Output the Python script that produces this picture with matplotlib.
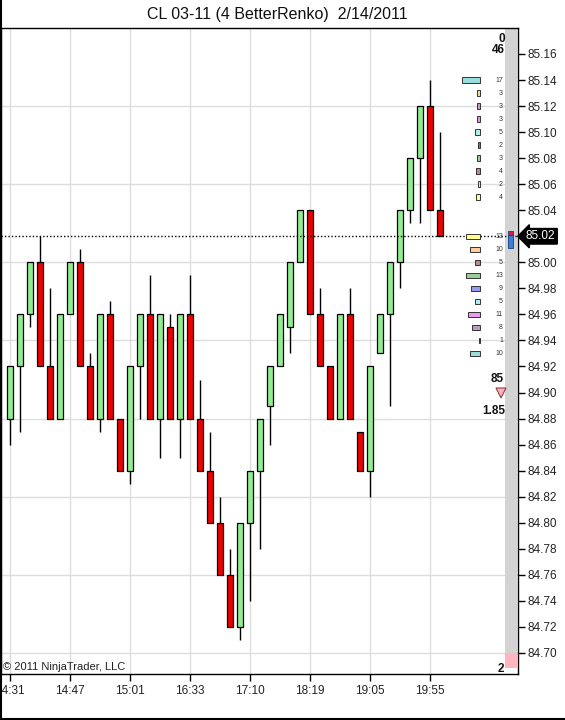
import matplotlib
matplotlib.use("Agg")
import matplotlib.pyplot as plt
from matplotlib.patches import Rectangle, Polygon
from matplotlib.transforms import blended_transform_factory
import numpy as np

plt.rcParams['font.family'] = ['Liberation Sans', 'DejaVu Sans']

# ---- data ----
opens  = [84.88, 84.92, 84.96, 85.00, 84.92, 84.88, 84.96, 85.00, 84.92, 84.88,
          84.96, 84.88, 84.84, 84.92, 84.96, 84.88, 84.95, 84.88, 84.96, 84.88,
          84.84, 84.80, 84.76, 84.72, 84.80, 84.84, 84.89, 84.92, 84.95, 85.00,
          85.04, 84.96, 84.92, 84.88, 84.96, 84.87, 84.84, 84.93, 84.96, 85.00,
          85.04, 85.08, 85.12, 85.04]
closes = [84.92, 84.96, 85.00, 84.92, 84.88, 84.96, 85.00, 84.92, 84.88, 84.96,
          84.88, 84.84, 84.92, 84.96, 84.88, 84.96, 84.88, 84.96, 84.88, 84.84,
          84.80, 84.76, 84.72, 84.80, 84.84, 84.88, 84.92, 84.96, 85.00, 85.04,
          84.96, 84.92, 84.88, 84.96, 84.88, 84.84, 84.92, 84.96, 85.00, 85.04,
          85.08, 85.12, 85.04, 85.02]
highs  = [84.92, 84.96, 85.00, 85.02, 84.98, 84.96, 85.00, 85.01, 84.93, 84.96,
          84.97, 84.88, 84.92, 84.96, 84.99, 84.96, 84.96, 84.96, 84.99, 84.91,
          84.87, 84.82, 84.78, 84.80, 84.84, 84.88, 84.92, 84.96, 85.00, 85.04,
          85.04, 84.98, 84.92, 84.96, 84.98, 84.87, 84.92, 84.96, 85.00, 85.04,
          85.08, 85.12, 85.14, 85.10]
lows   = [84.86, 84.87, 84.95, 84.92, 84.88, 84.88, 84.96, 84.92, 84.88, 84.87,
          84.88, 84.84, 84.83, 84.88, 84.88, 84.85, 84.88, 84.85, 84.88, 84.84,
          84.80, 84.76, 84.72, 84.71, 84.74, 84.78, 84.86, 84.92, 84.93, 85.00,
          84.96, 84.92, 84.88, 84.88, 84.88, 84.84, 84.82, 84.93, 84.89, 84.98,
          85.03, 85.03, 85.04, 85.02]

time_labels = ["14:31", "14:47", "15:01", "16:33", "17:10", "18:19", "19:05", "19:55"]
time_label_bars = [0, 6, 12, 18, 24, 30, 36, 42]

vp_prices = [85.14, 85.13, 85.12, 85.11, 85.10, 85.09, 85.08, 85.07, 85.06, 85.05,
             85.02, 85.01, 85.00, 84.99, 84.98, 84.97, 84.96, 84.95, 84.94, 84.93]
vp_counts = [17, 3, 3, 3, 5, 2, 3, 4, 2, 4,
             13, 10, 5, 13, 9, 5, 11, 8, 1, 10]
vp_colors = ['#99dddd', '#eedd99', '#cc99cc', '#dd99dd', '#aaeeee', '#7777bb',
             '#99cc99', '#bb8899', '#eeee99', '#ffff99',
             '#ffff88', '#ffcc99', '#bb8888', '#99cc99', '#9999ee', '#aaeeee',
             '#ee99ee', '#bb99cc', '#000000', '#99dddd']

last_price = 85.02
title = "CL 03-11 (4 BetterRenko)  2/14/2011"

# ---- figure ----
W, H = 565, 720
fig = plt.figure(figsize=(W / 100, H / 100), dpi=100)
fig.patch.set_facecolor('white')

ax_l, ax_r, ax_t, ax_b = 1, 518, 28, 674
ax = fig.add_axes([ax_l / W, 1 - ax_b / H, (ax_r - ax_l) / W, (ax_b - ax_t) / H])

y_top = 85.16 + (54 - ax_t) / 1302.0
y_bot = 85.16 - (ax_b - 54) / 1302.0
ax.set_ylim(y_bot, y_top)
ax.set_xlim(-0.9, 50.8)

def px2fig(x, y):
    return x / W, 1 - y / H

# grid
for b in time_label_bars:
    ax.axvline(b, color='#dddddd', lw=1, zorder=0)
for g in np.arange(84.70, 85.13, 0.06):
    ax.axhline(g, color='#dddddd', lw=1, zorder=0)

x = np.arange(len(opens))
o = np.array(opens); c = np.array(closes)
colors = ['#90ee90' if cc > oo else '#ee0000' for oo, cc in zip(o, c)]
ax.vlines(x, lows, highs, color='black', lw=1, zorder=2)
ax.bar(x, c - o, bottom=o, width=0.6, color=colors, edgecolor='black',
       linewidth=0.9, zorder=3)

# last price dotted line
ax.axhline(last_price, color='black', lw=1, linestyle=(0, (1, 1.5)), zorder=4)

# volume profile
right_edge = 47.0
for p, n, col in zip(vp_prices, vp_counts, vp_colors):
    w = max(n * 0.105, 0.08)
    ax.add_patch(Rectangle((right_edge - w, p - 0.0021), w, 0.0042,
                           facecolor=col, edgecolor='#333333', lw=0.7, zorder=5))
    ax.text(49.3, p, str(n), ha='right', va='center', fontsize=5,
            color='#333333', zorder=6)

# right gray strip
ax.add_patch(Rectangle((49.5, 84.6884), 1.2, y_top - 84.6884,
                       facecolor='#d3d3d3', edgecolor='none', zorder=1))
ax.add_patch(Rectangle((49.5, 84.6884), 1.2, 84.6999 - 84.6884,
                       facecolor='#ffb6c1', edgecolor='none', zorder=2))
ax.add_patch(Rectangle((49.8, 85.0108), 0.5, 85.021 - 85.0108,
                       facecolor='#3a7fd5', edgecolor='#1a3f80', lw=0.6, zorder=6))
ax.add_patch(Rectangle((49.8, 85.021), 0.5, 85.0243 - 85.021,
                       facecolor='#cc2244', edgecolor='#1a3f80', lw=0.6, zorder=6))

# axes styling
for s in ax.spines.values():
    s.set_color('black'); s.set_linewidth(1)
ax.yaxis.tick_right()
yt = np.round(np.arange(84.70, 85.161, 0.02), 2)
ax.set_yticks(yt)
ax.set_yticklabels(["" if abs(v - last_price) < 1e-6 else f"{v:.2f}" for v in yt])
ax.set_xticks(time_label_bars)
ax.set_xticklabels(time_labels)
ax.tick_params(axis='both', direction='out', length=5, width=1, color='black',
               labelsize=8.5, labelcolor='#222222')
ax.tick_params(axis='y', pad=2)
ax.tick_params(axis='x', pad=3)

# price tag
tr = blended_transform_factory(fig.transFigure, ax.transData)
ax.text(526 / W, last_price, "85.02", transform=tr, ha='left', va='center',
        fontsize=8.5, color='white', zorder=10, clip_on=False,
        bbox=dict(boxstyle='larrow,pad=0.15', fc='black', ec='black'))

# title and texts
fx, fy = px2fig(W / 2 - 5, 15)
fig.text(fx, fy, title, ha='center', va='center', fontsize=11.5, color='#111111')
for txt, (px, py) in [("0", (505, 38.5)), ("46", (505, 50)), ("85", (504, 379.5)),
                      ("1.85", (505, 411)), ("2", (504, 669))]:
    fx, fy = px2fig(px, py)
    fig.text(fx, fy, txt, ha='right', va='center', fontsize=8.5,
             fontweight='bold', color='#111111', zorder=10)
fx, fy = px2fig(3, 667)
fig.text(fx, fy, "© 2011 NinjaTrader, LLC", ha='left', va='center',
         fontsize=8, color='#222222', zorder=10)

# triangle marker
tri = [(496, 388), (506, 388), (501, 398)]
tri_f = [px2fig(a, b) for a, b in tri]
fig.patches.append(Polygon(tri_f, closed=True, transform=fig.transFigure,
                           facecolor='#ffb0b8', edgecolor='#884444', lw=0.8))

# outer frame (left and bottom)
fig.add_artist(plt.Line2D([0.5 / W, 0.5 / W], [0, 1], transform=fig.transFigure,
                          color='black', lw=1.5))
fig.add_artist(plt.Line2D([0, 1], [1 / H, 1 / H], transform=fig.transFigure,
                          color='black', lw=1.5))

fig.savefig("out.png", dpi=100)
